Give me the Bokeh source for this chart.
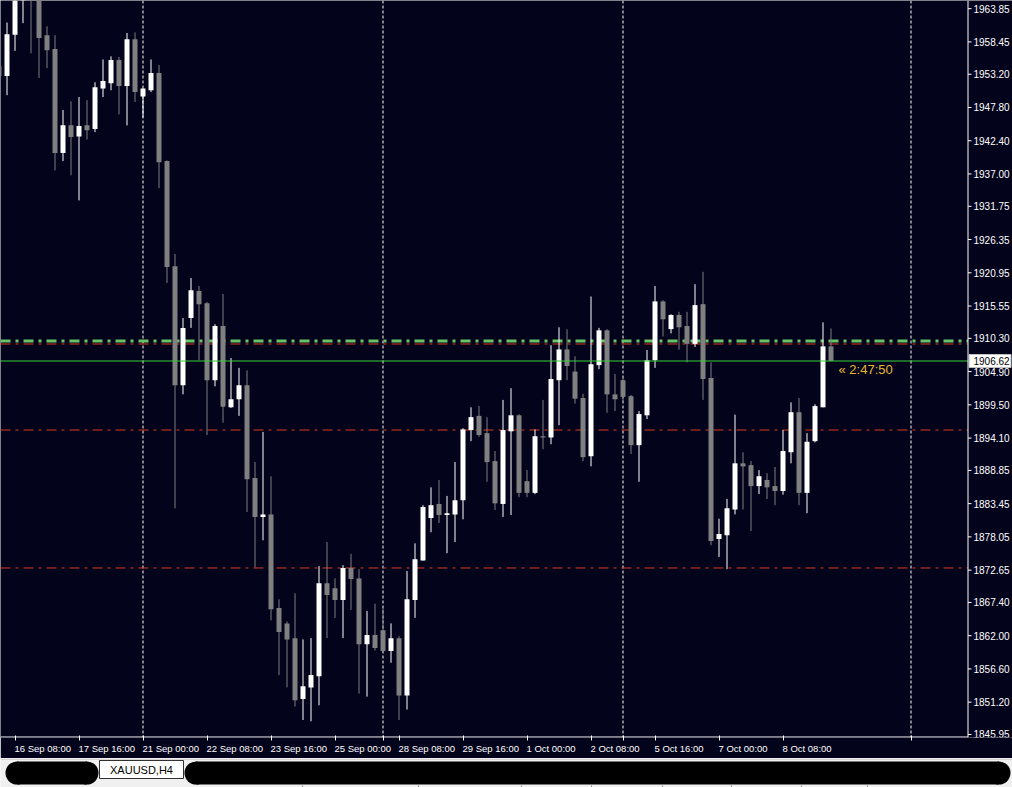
from bokeh.plotting import figure
from bokeh.models import (Range1d, LinearAxis, FixedTicker, Span, Label,
                          ColumnDataSource, CustomJSTickFormatter)
from bokeh.layouts import column
from bokeh.embed import file_html
from bokeh.resources import INLINE
from bokeh.core.properties import value

# ---------------- data (XAUUSD, H4, 16 Sep 00:00 .. 9 Oct 08:00) ----------------
symbol = "XAUUSD,H4"
opens = [1954.5,
         1952.9, 1959.6, 1966.5, 1969.5, 1967.0, 1959.55, 1957.3, 1940.4, 1944.9, 1943.1,
         1944.9, 1944.3, 1950.9, 1951.75, 1955.5, 1951.3, 1958.9, 1949.6, 1950.6, 1953.4,
         1939.1, 1922.0, 1902.7, 1913.6, 1918.0, 1916.0, 1903.5, 1912.3, 1899.1, 1900.4,
         1902.7, 1887.6, 1881.3, 1881.7, 1866.5, 1864.0, 1861.6, 1851.7, 1853.6, 1855.4,
         1870.5, 1869.7, 1867.8, 1873.0, 1871.3, 1860.6, 1862.1, 1862.9, 1859.5, 1861.6,
         1852.3, 1867.8, 1874.2, 1881.1, 1883.4, 1881.6, 1881.7, 1884.0, 1895.4, 1897.7,
         1894.9, 1890.35, 1883.4, 1895.2, 1897.8, 1887.1, 1885.2, 1894.4, 1894.2, 1903.5,
         1908.5, 1904.9, 1900.6, 1891.15, 1905.95, 1911.6, 1901.2, 1903.5, 1900.9, 1892.95,
         1897.8, 1906.75, 1916.3, 1911.8, 1914.1, 1912.3, 1909.4, 1915.85, 1903.85, 1877.7,
         1878.3, 1882.5, 1890.0, 1889.7, 1886.3, 1887.3, 1886.3, 1885.5, 1891.8, 1898.3,
         1885.2, 1893.6, 1899.1, 1909.0]
highs = [1956.0,
         1961.6, 1968.0, 1971.0, 1970.5, 1968.0, 1961.0, 1959.55, 1947.4, 1948.8, 1949.5,
         1949.0, 1951.9, 1955.6, 1956.1, 1956.0, 1959.9, 1960.0, 1950.9, 1955.6, 1954.7,
         1939.2, 1924.0, 1913.6, 1920.1, 1918.8, 1916.2, 1912.6, 1917.5, 1907.1, 1905.5,
         1905.1, 1890.2, 1895.1, 1887.9, 1867.9, 1864.3, 1868.9, 1861.4, 1861.6, 1873.3,
         1877.2, 1871.3, 1873.45, 1875.3, 1872.8, 1866.0, 1867.2, 1866.4, 1864.0, 1861.9,
         1872.5, 1877.0, 1883.2, 1886.1, 1887.3, 1884.7, 1890.2, 1895.7, 1899.1, 1899.3,
         1897.5, 1892.0, 1900.3, 1902.2, 1898.0, 1888.9, 1895.5, 1900.3, 1909.2, 1912.1,
         1911.8, 1907.4, 1901.3, 1917.1, 1912.0, 1911.8, 1904.5, 1904.1, 1901.1, 1898.5,
         1908.4, 1918.8, 1916.5, 1914.2, 1914.6, 1914.6, 1919.1, 1921.1, 1906.4, 1881.0,
         1884.2, 1897.9, 1891.8, 1890.35, 1888.9, 1888.4, 1889.4, 1895.4, 1899.9, 1900.6,
         1894.9, 1899.6, 1912.9, 1911.9]
lows = [1951.5,
        1949.8, 1957.0, 1961.5, 1956.6, 1952.6, 1954.2, 1937.6, 1939.1, 1936.8, 1932.7,
        1942.6, 1943.8, 1949.5, 1950.6, 1946.7, 1944.9, 1948.7, 1946.2, 1950.3, 1934.7,
        1919.3, 1882.7, 1901.2, 1912.0, 1906.75, 1894.6, 1902.5, 1896.6, 1899.0, 1897.7,
        1882.1, 1873.1, 1877.5, 1864.5, 1855.6, 1853.6, 1850.5, 1848.3, 1848.1, 1850.7,
        1861.6, 1864.9, 1861.6, 1866.2, 1852.6, 1852.1, 1859.6, 1859.5, 1857.6, 1848.3,
        1850.0, 1864.9, 1874.2, 1878.8, 1880.3, 1875.4, 1877.2, 1880.9, 1893.6, 1894.3,
        1887.0, 1882.4, 1881.3, 1881.6, 1884.5, 1884.5, 1885.0, 1892.3, 1893.1, 1896.2,
        1903.5, 1899.7, 1890.35, 1889.5, 1905.3, 1898.2, 1898.5, 1899.8, 1891.5, 1887.0,
        1897.2, 1905.5, 1910.6, 1911.1, 1908.45, 1906.4, 1908.9, 1900.3, 1876.7, 1874.8,
        1872.8, 1881.7, 1882.5, 1879.0, 1885.0, 1884.2, 1883.2, 1884.9, 1890.0, 1883.2,
        1881.9, 1893.4, 1899.1, 1906.6]
closes = [1952.9,
          1959.7, 1966.5, 1969.5, 1967.0, 1959.1, 1957.1, 1940.4, 1944.9, 1943.0, 1944.8,
          1944.1, 1951.1, 1952.1, 1955.5, 1951.3, 1958.9, 1950.3, 1950.9, 1953.4, 1938.9,
          1921.9, 1902.7, 1912.0, 1918.1, 1915.85, 1903.5, 1912.3, 1899.2, 1900.4, 1902.7,
          1887.4, 1881.3, 1881.7, 1866.3, 1862.6, 1861.4, 1851.5, 1853.8, 1855.6, 1870.5,
          1868.6, 1867.8, 1873.0, 1871.2, 1860.6, 1862.1, 1860.0, 1859.5, 1861.6, 1852.3,
          1867.9, 1874.4, 1882.9, 1883.2, 1881.6, 1881.9, 1884.0, 1895.5, 1897.5, 1894.6,
          1890.2, 1883.5, 1895.4, 1897.8, 1885.2, 1885.2, 1894.4, 1894.2, 1903.7, 1908.5,
          1905.8, 1900.5, 1891.0, 1906.1, 1911.6, 1901.2, 1900.4, 1900.8, 1892.95, 1898.0,
          1906.75, 1916.3, 1913.4, 1914.1, 1912.1, 1909.4, 1915.7, 1903.7, 1877.4, 1878.5,
          1882.7, 1890.0, 1889.5, 1886.3, 1887.9, 1886.1, 1885.5, 1892.0, 1898.3, 1885.2,
          1893.5, 1899.3, 1909.0, 1906.62]

time_labels = ["16 Sep 08:00", "17 Sep 16:00", "21 Sep 00:00", "22 Sep 08:00",
               "23 Sep 16:00", "25 Sep 00:00", "28 Sep 08:00", "29 Sep 16:00",
               "1 Oct 00:00", "2 Oct 08:00", "5 Oct 16:00", "7 Oct 00:00", "8 Oct 08:00"]
time_label_bars = [2, 10, 18, 26, 34, 42, 50, 58, 66, 74, 82, 90, 98]
week_separator_bars = [18, 48, 78, 114]

price_ticks = [1963.85, 1958.45, 1953.20, 1947.80, 1942.40, 1937.00, 1931.75, 1926.35,
               1920.95, 1915.55, 1910.30, 1904.90, 1899.50, 1894.10, 1888.85, 1883.45,
               1878.05, 1872.65, 1867.40, 1862.00, 1856.60, 1851.20, 1845.95]
bid_price = 1906.62
red_levels = [1909.38, 1895.41, 1873.00]
green_level = 1909.87
countdown = "\u00ab 2:47:50"

# ---------------- styling / layout ----------------
BG = "#03031b"
UP = "#ffffff"
DOWN = "#808080"
RED = "#d83c22"
GREEN_DD = "#66c466"
BID = "#38d038"
FONT = "Liberation Sans"
BAR_PX = 8.0
PX_PRICE = 0.16244          # price units per pixel
X0, X1 = 0.1875, 126.6875   # bar-index range across 1012 px
Y1 = 1965.18
Y0 = Y1 - 737 * PX_PRICE
AXIS_X = 121.125            # price-axis line position (bar units)
LABEL_X = AXIS_X + 5.5 / BAR_PX
TICK_X = AXIS_X + 3.5 / BAR_PX

n = len(opens)
xs = list(range(n))
bots, tops, cols = [], [], []
for o, c in zip(opens, closes):
    lo, hi = min(o, c), max(o, c)
    if hi - lo < PX_PRICE:
        hi = lo + PX_PRICE
    bots.append(lo)
    tops.append(hi)
    cols.append(UP if c >= o else DOWN)

src = ColumnDataSource(dict(x=xs, open=opens, high=highs, low=lows, close=closes,
                            bot=bots, top=tops, color=cols))

p = figure(width=1012, height=758, title=None,
           x_range=Range1d(X0, X1), y_range=Range1d(Y0, Y1),
           x_axis_type=None, y_axis_type=None,
           output_backend="svg", toolbar_location=None,
           background_fill_color=BG, border_fill_color=BG,
           min_border_left=0, min_border_top=0, min_border_right=0, min_border_bottom=21)
p.outline_line_color = None

# week separators
for b in week_separator_bars:
    p.add_layout(Span(location=b, dimension="height", line_color="white",
                      line_dash="3 2", line_width=1, level="underlay"))

# level lines (stop at the price axis)
p.segment(x0=[X0] * len(red_levels), y0=red_levels, x1=[AXIS_X] * len(red_levels),
          y1=red_levels, line_color=RED, line_width=1, line_dash="10 5 3 5")
p.segment(x0=[X0], y0=[green_level], x1=[AXIS_X], y1=[green_level], line_color=GREEN_DD,
          line_width=3, line_dash="10 5 3 5")

# candles
p.segment(x0="x", y0="low", x1="x", y1="high", line_color="color", line_width=1, source=src)
p.vbar(x="x", width=0.625, bottom="bot", top="top", fill_color="color",
       line_color=None, source=src)

# bid line
p.segment(x0=[X0], y0=[bid_price], x1=[AXIS_X], y1=[bid_price], line_color=BID, line_width=1)

# price scale on the right (drawn inside the canvas so the bid box can overlay it)
p.segment(x0=[AXIS_X], y0=[Y0], x1=[AXIS_X], y1=[Y1], line_color="white", line_width=1)
p.segment(x0=[AXIS_X] * len(price_ticks), y0=price_ticks, x1=[TICK_X] * len(price_ticks),
          y1=price_ticks, line_color="white", line_width=1)
p.text(x=[LABEL_X] * len(price_ticks), y=price_ticks, text=["%.2f" % v for v in price_ticks],
       text_font=value(FONT), text_font_size="10px", text_color="white",
       text_align="left", text_baseline="middle")
box_h = 6.5 * PX_PRICE
p.quad(left=[AXIS_X + 1 / BAR_PX], right=[AXIS_X + 43 / BAR_PX],
       bottom=[bid_price - box_h], top=[bid_price + box_h],
       fill_color="white", line_color="#c0c0c0", line_width=1)
p.text(x=[LABEL_X], y=[bid_price], text=["%.2f" % bid_price], text_font=value(FONT),
       text_font_size="10px", text_color="black", text_align="left", text_baseline="middle")

# bottom axis line (ends at the price axis)
p.segment(x0=[X0], y0=[Y0 + 0.5 * PX_PRICE], x1=[AXIS_X], y1=[Y0 + 0.5 * PX_PRICE],
          line_color="white", line_width=1)

# time axis: labels left-aligned on their tick marks
AW = {' ': .278, ':': .278, 'S': .667, 'e': .556, 'p': .556, 'O': .778, 'c': .5, 't': .278}
def text_w(s, size):
    return sum(AW.get(ch, .556) for ch in s) * size

LBL_SIZE = 9.5
label_centers = [b + (-0.5 + text_w(s, LBL_SIZE) / 2.0) / BAR_PX
                 for b, s in zip(time_label_bars, time_labels)]
xax = LinearAxis(ticker=FixedTicker(ticks=label_centers,
                                    minor_ticks=sorted(set(time_label_bars + week_separator_bars))),
                 formatter=CustomJSTickFormatter(args=dict(labels=time_labels),
                                                 code="return labels[index] ?? '';"))
xax.axis_line_color = None
xax.major_tick_line_color = None
xax.major_tick_in = 0
xax.major_tick_out = 0
xax.minor_tick_line_color = "white"
xax.minor_tick_in = 2
xax.minor_tick_out = 3
xax.major_label_standoff = 2
xax.major_label_text_color = "white"
xax.major_label_text_font = FONT
xax.major_label_text_font_size = "%gpx" % LBL_SIZE
p.add_layout(xax, "below")

# countdown to bar close
p.add_layout(Label(x=n - 1 + 0.94, y=1905.3, text=countdown, text_color="#e8b830",
                   text_font=FONT, text_font_size="13px", text_baseline="middle",
                   text_align="left"))

# ---------------- terminal tab bar ----------------
t = figure(width=1012, height=29, title=None, x_range=Range1d(0, 1012), y_range=Range1d(0, 29),
           x_axis_type=None, y_axis_type=None, output_backend="svg", toolbar_location=None,
           background_fill_color="#f0f0f0", border_fill_color="#f0f0f0", min_border=0)
t.outline_line_color = None
t.quad(left=[0], right=[1012], bottom=[27.5], top=[29], fill_color="#d8d8d8", line_color=None)
for l, r in [(5, 98), (184, 1010)]:
    rad = 11.5
    t.quad(left=[l + rad], right=[r - rad], bottom=[3], top=[26], fill_color="black",
           line_color=None)
    t.ellipse(x=[l + rad, r - rad], y=[14.5, 14.5], width=23, height=23,
              fill_color="black", line_color=None)
t.quad(left=[99], right=[183], bottom=[9], top=[27], fill_color="white",
       line_color="#303030", line_width=1)
t.text(x=[141], y=[17.5], text=[symbol], text_font=value(FONT), text_font_size="11px",
       text_align="center", text_baseline="middle", text_color="black")
seps = [302, 418, 521, 591, 662, 731, 801, 867]
t.segment(x0=seps, y0=[0] * len(seps), x1=seps, y1=[3] * len(seps), line_color="#a0a0a0")

layout = column(p, t, spacing=0)
open("out.html", "w").write(file_html(layout, INLINE))
